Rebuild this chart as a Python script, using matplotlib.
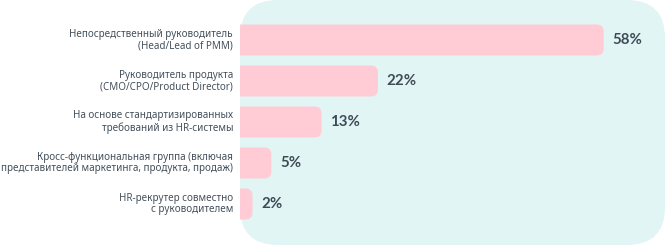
import matplotlib.pyplot as plt
from matplotlib.patches import FancyBboxPatch

categories = [
    "Непосредственный руководитель\n(Head/Lead of PMM)",
    "Руководитель продукта\n(CMO/CPO/Product Director)",
    "На основе стандартизированных\nтребований из HR-системы",
    "Кросс-функциональная группа (включая\nпредставителей маркетинга, продукта, продаж)",
    "HR-рекрутер совместно\nс руководителем",
]
values = [58, 22, 13, 5, 2]
value_labels = ["58%", "22%", "13%", "5%", "2%"]

W, H = 665, 245
fig = plt.figure(figsize=(W / 100, H / 100), dpi=100)

# background panel in pixel coordinates
bg = fig.add_axes([0, 0, 1, 1])
bg.set_xlim(0, W)
bg.set_ylim(H, 0)
bg.axis("off")
bg.add_patch(FancyBboxPatch((240, 0), W - 240, H,
                            boxstyle="round,pad=0,rounding_size=38",
                            fc="#e1f5f4", ec="none"))

# bar axes
px_per_unit = 6.27
left_px = 240
ax = fig.add_axes([left_px / W, 0, (W - left_px) / W, 1])
ax.set_xlim(0, (W - left_px) / px_per_unit)
ax.set_ylim(5.0, -40 / 41)
ax.axis("off")
ax.patch.set_alpha(0)

bars = ax.barh(range(len(values)), values, height=31 / 41, color="none")
aspect = px_per_unit / 41
r = 7 / px_per_unit
for b in bars:
    x0, y0 = b.get_x(), b.get_y()
    w, h = b.get_width(), b.get_height()
    p = FancyBboxPatch((x0 - 3, y0), w + 3, h,
                       boxstyle=f"round,pad=0,rounding_size={r}",
                       mutation_aspect=aspect, fc="#ffccd6", ec="none")
    ax.add_patch(p)

for i, (v, lab) in enumerate(zip(values, value_labels)):
    ax.text(v + 1.4, i, lab, va="center", ha="left", fontsize=10.8,
            fontweight="bold", color="#3e4b55", family="Lato")

for i, cat in enumerate(categories):
    ax.text(-1.1, i, cat, va="center", ha="right", fontsize=7.1,
            color="#44505b", family="Noto Sans", linespacing=1.1,
            clip_on=False)

fig.savefig("out.png", dpi=100)
